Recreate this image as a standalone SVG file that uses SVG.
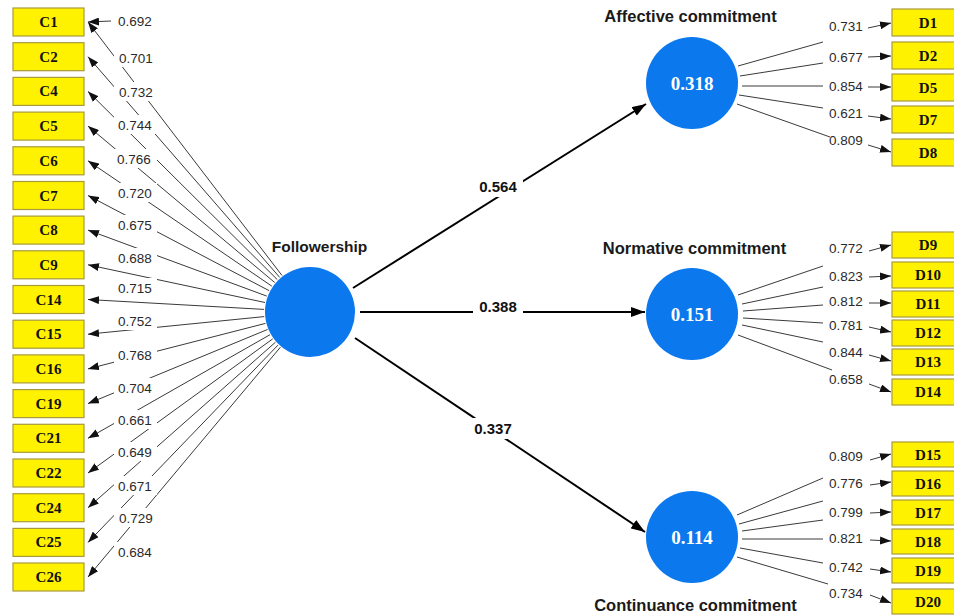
<svg xmlns="http://www.w3.org/2000/svg" width="954" height="616" viewBox="0 0 954 616">
<style>
.box{fill:#fff200;stroke:#a89a3a;stroke-width:1.2}
.bt{font-family:"Liberation Serif",serif;font-weight:bold;font-size:15px;fill:#111;text-anchor:middle}
.lv{font-family:"Liberation Sans",Arial,sans-serif;font-size:13.5px;fill:#2a2a2a}
.sl{font-family:"Liberation Sans",Arial,sans-serif;font-weight:bold;font-size:15px;fill:#111;text-anchor:middle}
.tt{font-family:"Liberation Sans",Arial,sans-serif;font-weight:bold;font-size:16.5px;fill:#1a1a1a;text-anchor:middle}
.tf{font-family:"Liberation Sans",Arial,sans-serif;font-weight:bold;font-size:15.5px;fill:#1a1a1a;text-anchor:middle}
.cv{font-family:"Liberation Serif",serif;font-weight:bold;font-size:19px;fill:#fff;text-anchor:middle}
.lat{fill:#0b78ee}
.thin{stroke:#3a3a3a;stroke-width:1;fill:none}
.ar{stroke:#3a3a3a;stroke-width:1;fill:none;marker-end:url(#ah)}
.big{stroke:#000;stroke-width:2;fill:none}
.bg{fill:#fff}
</style>
<defs>
<marker id="ah" markerUnits="userSpaceOnUse" markerWidth="11" markerHeight="8" refX="11" refY="4" orient="auto"><path d="M0,0 L11,4 L0,8 z" fill="#111"/></marker>
<marker id="ahb" markerUnits="userSpaceOnUse" markerWidth="14" markerHeight="10" refX="14" refY="5" orient="auto"><path d="M0,0 L14,5 L0,10 z" fill="#000"/></marker>
</defs>
<g id="connectors">
<line class="ar" x1="282.0" y1="275.5" x2="88" y2="22"/>
<line class="ar" x1="279.7" y1="277.4" x2="88" y2="56.7"/>
<line class="ar" x1="277.3" y1="279.6" x2="88" y2="91.4"/>
<line class="ar" x1="274.7" y1="282.5" x2="88" y2="126.1"/>
<line class="ar" x1="271.9" y1="286.2" x2="88" y2="160.8"/>
<line class="ar" x1="269.2" y1="290.7" x2="88" y2="195.5"/>
<line class="ar" x1="266.8" y1="296.1" x2="88" y2="230.1"/>
<line class="ar" x1="265.0" y1="302.5" x2="88" y2="264.8"/>
<line class="ar" x1="264.1" y1="309.4" x2="88" y2="299.5"/>
<line class="ar" x1="264.2" y1="316.6" x2="88" y2="334.2"/>
<line class="ar" x1="265.4" y1="323.4" x2="88" y2="368.9"/>
<line class="ar" x1="267.5" y1="329.5" x2="88" y2="403.6"/>
<line class="ar" x1="270.0" y1="334.7" x2="88" y2="438.3"/>
<line class="ar" x1="272.7" y1="338.9" x2="88" y2="473.0"/>
<line class="ar" x1="275.4" y1="342.3" x2="88" y2="507.7"/>
<line class="ar" x1="278.0" y1="345.1" x2="88" y2="542.4"/>
<line class="ar" x1="280.4" y1="347.2" x2="88" y2="577.0"/>
<line class="ar" x1="111" y1="21" x2="88" y2="22"/>
<g class="bg">
<rect x="114" y="11" width="43" height="19"/>
<rect x="114" y="48" width="43" height="19"/>
<rect x="114" y="82" width="43" height="19"/>
<rect x="114" y="115" width="43" height="19"/>
<rect x="114" y="149" width="43" height="19"/>
<rect x="114" y="183" width="43" height="19"/>
<rect x="114" y="215" width="43" height="19"/>
<rect x="114" y="248" width="43" height="19"/>
<rect x="114" y="278" width="43" height="19"/>
<rect x="114" y="311" width="43" height="19"/>
<rect x="114" y="345" width="43" height="19"/>
<rect x="114" y="378" width="43" height="19"/>
<rect x="114" y="410" width="43" height="19"/>
<rect x="114" y="442" width="43" height="19"/>
<rect x="114" y="476" width="43" height="19"/>
<rect x="114" y="508" width="43" height="19"/>
<rect x="114" y="542" width="43" height="19"/>
</g>
<line class="big" x1="353" y1="288" x2="646" y2="104" marker-end="url(#ahb)"/>
<line class="big" x1="360" y1="312" x2="645" y2="312" marker-end="url(#ahb)"/>
<line class="big" x1="355" y1="338" x2="645" y2="532" marker-end="url(#ahb)"/>
<rect class="bg" x="473" y="176" width="50" height="21"/>
<rect class="bg" x="473" y="297" width="50" height="21"/>
<rect class="bg" x="469" y="418" width="48" height="21"/>
<line class="thin" x1="738" y1="66" x2="823" y2="42"/>
<line class="thin" x1="740" y1="76" x2="823" y2="63"/>
<line class="thin" x1="742" y1="86" x2="823" y2="86"/>
<line class="thin" x1="739" y1="95" x2="823" y2="108"/>
<line class="thin" x1="737" y1="104" x2="830" y2="137"/>
<line class="ar" x1="868" y1="28" x2="891" y2="23"/>
<line class="ar" x1="868" y1="57" x2="891" y2="56"/>
<line class="ar" x1="868" y1="87" x2="891" y2="87"/>
<line class="ar" x1="868" y1="116" x2="891" y2="119"/>
<line class="ar" x1="868" y1="145" x2="891" y2="152"/>
<line class="thin" x1="738" y1="295" x2="823" y2="266"/>
<line class="thin" x1="742" y1="304" x2="823" y2="287"/>
<line class="thin" x1="743" y1="311" x2="823" y2="305"/>
<line class="thin" x1="743" y1="318" x2="823" y2="323"/>
<line class="thin" x1="742" y1="325" x2="823" y2="342"/>
<line class="thin" x1="738" y1="335" x2="832" y2="370"/>
<line class="ar" x1="869" y1="251" x2="891" y2="245"/>
<line class="ar" x1="869" y1="277" x2="891" y2="276"/>
<line class="ar" x1="869" y1="303" x2="891" y2="303"/>
<line class="ar" x1="869" y1="327" x2="891" y2="332"/>
<line class="ar" x1="869" y1="355" x2="891" y2="361"/>
<line class="ar" x1="869" y1="384" x2="891" y2="392"/>
<line class="thin" x1="737" y1="515" x2="823" y2="478"/>
<line class="thin" x1="739" y1="524" x2="823" y2="501"/>
<line class="thin" x1="742" y1="531" x2="823" y2="520"/>
<line class="thin" x1="742" y1="539" x2="823" y2="539"/>
<line class="thin" x1="740" y1="548" x2="823" y2="563"/>
<line class="thin" x1="737" y1="557" x2="828" y2="584"/>
<line class="ar" x1="870" y1="460" x2="891" y2="454"/>
<line class="ar" x1="870" y1="485" x2="891" y2="482"/>
<line class="ar" x1="870" y1="513" x2="891" y2="512"/>
<line class="ar" x1="870" y1="540" x2="891" y2="541"/>
<line class="ar" x1="870" y1="569" x2="891" y2="572"/>
<line class="ar" x1="870" y1="595" x2="891" y2="603"/>
</g>
<g id="loadings">
<text class="lv" x="118" y="25.5">0.692</text>
<text class="lv" x="119" y="62.5">0.701</text>
<text class="lv" x="119" y="96.5">0.732</text>
<text class="lv" x="118" y="129.5">0.744</text>
<text class="lv" x="117" y="163.5">0.766</text>
<text class="lv" x="118" y="197.5">0.720</text>
<text class="lv" x="118" y="229.5">0.675</text>
<text class="lv" x="118" y="262.5">0.688</text>
<text class="lv" x="118" y="292.5">0.715</text>
<text class="lv" x="118" y="325.5">0.752</text>
<text class="lv" x="118" y="359.5">0.768</text>
<text class="lv" x="118" y="392.5">0.704</text>
<text class="lv" x="118" y="424.5">0.661</text>
<text class="lv" x="118" y="456.5">0.649</text>
<text class="lv" x="118" y="490.5">0.671</text>
<text class="lv" x="119" y="522.5">0.729</text>
<text class="lv" x="118" y="556.5">0.684</text>
<text class="lv" x="829" y="30.5">0.731</text>
<text class="lv" x="829" y="61.5">0.677</text>
<text class="lv" x="829" y="90.5">0.854</text>
<text class="lv" x="829" y="117.5">0.621</text>
<text class="lv" x="829" y="144.5">0.809</text>
<text class="lv" x="829" y="252.5">0.772</text>
<text class="lv" x="829" y="280.5">0.823</text>
<text class="lv" x="829" y="305.5">0.812</text>
<text class="lv" x="829" y="329.5">0.781</text>
<text class="lv" x="829" y="356.5">0.844</text>
<text class="lv" x="829" y="383.5">0.658</text>
<text class="lv" x="829" y="460.5">0.809</text>
<text class="lv" x="829" y="487.5">0.776</text>
<text class="lv" x="829" y="516.5">0.799</text>
<text class="lv" x="829" y="542.5">0.821</text>
<text class="lv" x="829" y="571.5">0.742</text>
<text class="lv" x="829" y="597.5">0.734</text>
<text class="sl" x="498" y="192">0.564</text>
<text class="sl" x="498" y="312">0.388</text>
<text class="sl" x="493" y="434">0.337</text>
</g>
<g id="Followership">
<circle class="lat" cx="310" cy="312" r="45"/>
<text class="tf" x="319.5" y="251.5">Followership</text>
</g>
<g id="Affective">
<circle class="lat" cx="692" cy="83" r="46"/>
<text class="cv" x="692" y="90">0.318</text>
<text class="tt" x="690.5" y="22">Affective commitment</text>
</g>
<g id="Normative">
<circle class="lat" cx="692" cy="314" r="46"/>
<text class="cv" x="692" y="321">0.151</text>
<text class="tt" x="694.5" y="253.5">Normative commitment</text>
</g>
<g id="Continuance">
<circle class="lat" cx="692" cy="537" r="46"/>
<text class="cv" x="692" y="544">0.114</text>
<text class="tt" x="695.5" y="610.5">Continuance commitment</text>
</g>
<g id="C1"><rect class="box" x="13" y="8" width="71" height="28"/><text class="bt" x="48.5" y="27">C1</text></g>
<g id="C2"><rect class="box" x="13" y="42.7" width="71" height="28"/><text class="bt" x="48.5" y="61.7">C2</text></g>
<g id="C4"><rect class="box" x="13" y="77.4" width="71" height="28"/><text class="bt" x="48.5" y="96.4">C4</text></g>
<g id="C5"><rect class="box" x="13" y="112.1" width="71" height="28"/><text class="bt" x="48.5" y="131.1">C5</text></g>
<g id="C6"><rect class="box" x="13" y="146.8" width="71" height="28"/><text class="bt" x="48.5" y="165.8">C6</text></g>
<g id="C7"><rect class="box" x="13" y="181.5" width="71" height="28"/><text class="bt" x="48.5" y="200.5">C7</text></g>
<g id="C8"><rect class="box" x="13" y="216.1" width="71" height="28"/><text class="bt" x="48.5" y="235.1">C8</text></g>
<g id="C9"><rect class="box" x="13" y="250.8" width="71" height="28"/><text class="bt" x="48.5" y="269.8">C9</text></g>
<g id="C14"><rect class="box" x="13" y="285.5" width="71" height="28"/><text class="bt" x="48.5" y="304.5">C14</text></g>
<g id="C15"><rect class="box" x="13" y="320.2" width="71" height="28"/><text class="bt" x="48.5" y="339.2">C15</text></g>
<g id="C16"><rect class="box" x="13" y="354.9" width="71" height="28"/><text class="bt" x="48.5" y="373.9">C16</text></g>
<g id="C19"><rect class="box" x="13" y="389.6" width="71" height="28"/><text class="bt" x="48.5" y="408.6">C19</text></g>
<g id="C21"><rect class="box" x="13" y="424.3" width="71" height="28"/><text class="bt" x="48.5" y="443.3">C21</text></g>
<g id="C22"><rect class="box" x="13" y="459" width="71" height="28"/><text class="bt" x="48.5" y="478">C22</text></g>
<g id="C24"><rect class="box" x="13" y="493.7" width="71" height="28"/><text class="bt" x="48.5" y="512.7">C24</text></g>
<g id="C25"><rect class="box" x="13" y="528.4" width="71" height="28"/><text class="bt" x="48.5" y="547.4">C25</text></g>
<g id="C26"><rect class="box" x="13" y="563" width="71" height="28"/><text class="bt" x="48.5" y="582">C26</text></g>
<g id="D1"><rect class="box" x="892" y="9" width="70" height="27"/><text class="bt" x="928" y="27.5">D1</text></g>
<g id="D2"><rect class="box" x="892" y="42" width="70" height="27"/><text class="bt" x="928" y="60.5">D2</text></g>
<g id="D5"><rect class="box" x="892" y="74" width="70" height="27"/><text class="bt" x="928" y="92.5">D5</text></g>
<g id="D7"><rect class="box" x="892" y="106" width="70" height="27"/><text class="bt" x="928" y="124.5">D7</text></g>
<g id="D8"><rect class="box" x="892" y="139" width="70" height="27"/><text class="bt" x="928" y="157.5">D8</text></g>
<g id="D9"><rect class="box" x="892" y="232" width="70" height="26"/><text class="bt" x="928" y="250">D9</text></g>
<g id="D10"><rect class="box" x="892" y="262" width="70" height="26"/><text class="bt" x="928" y="280">D10</text></g>
<g id="D11"><rect class="box" x="892" y="291" width="70" height="26"/><text class="bt" x="928" y="309">D11</text></g>
<g id="D12"><rect class="box" x="892" y="320" width="70" height="26"/><text class="bt" x="928" y="338">D12</text></g>
<g id="D13"><rect class="box" x="892" y="349" width="70" height="26"/><text class="bt" x="928" y="367">D13</text></g>
<g id="D14"><rect class="box" x="892" y="379" width="70" height="26"/><text class="bt" x="928" y="397">D14</text></g>
<g id="D15"><rect class="box" x="892" y="442" width="70" height="25"/><text class="bt" x="928" y="459.5">D15</text></g>
<g id="D16"><rect class="box" x="892" y="471" width="70" height="25"/><text class="bt" x="928" y="488.5">D16</text></g>
<g id="D17"><rect class="box" x="892" y="500" width="70" height="25"/><text class="bt" x="928" y="517.5">D17</text></g>
<g id="D18"><rect class="box" x="892" y="529" width="70" height="25"/><text class="bt" x="928" y="546.5">D18</text></g>
<g id="D19"><rect class="box" x="892" y="558" width="70" height="25"/><text class="bt" x="928" y="575.5">D19</text></g>
<g id="D20"><rect class="box" x="892" y="589" width="70" height="25"/><text class="bt" x="928" y="606.5">D20</text></g>
</svg>
